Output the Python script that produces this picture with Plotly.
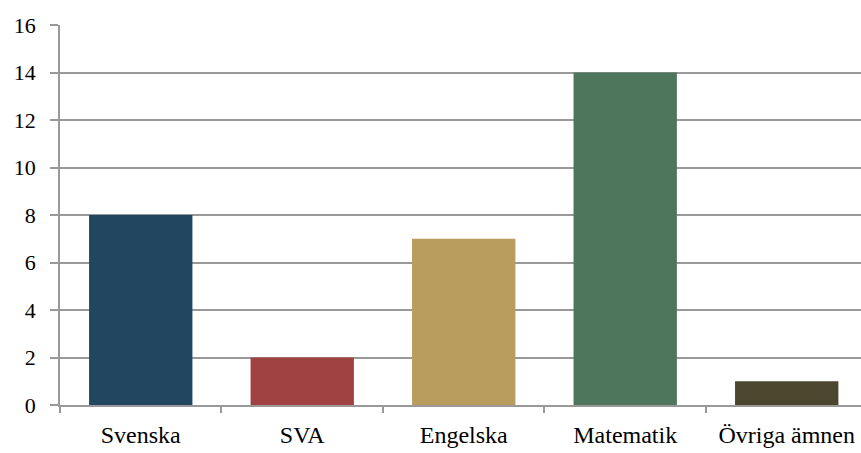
import plotly.graph_objects as go

categories = ["Svenska", "SVA", "Engelska", "Matematik", "Övriga ämnen"]
values = [8, 2, 7, 14, 1]
colors = ["#224560", "#A14242", "#B99D5E", "#4E765C", "#4B462D"]
y_ticks = [0, 2, 4, 6, 8, 10, 12, 14, 16]

FONT = "Liberation Serif, serif"
tfy = dict(family=FONT, size=22, color="#000000")
tfx = dict(family=FONT, size=24, color="#000000")

fig = go.Figure(go.Bar(x=categories, y=values, marker_color=colors, marker_line_width=0))

fig.update_layout(
    width=861, height=453,
    margin=dict(l=60, r=0, t=25, b=48, autoexpand=False),
    plot_bgcolor="white", paper_bgcolor="white",
    bargap=0.36,
    showlegend=False,
    font=tfy,
)
fig.update_xaxes(
    type="category", range=[-0.5, 4.46],
    showline=True, linecolor="#999999", linewidth=1.5,
    ticks="outside", tickson="boundaries", ticklen=6, tickcolor="#999999", tickwidth=1.5,
    showgrid=False, tickfont=tfx, automargin=False, ticklabelstandoff=7,
)
fig.update_yaxes(
    range=[0, 16], tickvals=y_ticks,
    showline=True, linecolor="#999999", linewidth=1.5,
    ticks="outside", ticklen=8, tickcolor="#999999", tickwidth=1.5,
    showgrid=True, gridcolor="#999999", gridwidth=1.5,
    zeroline=False, tickfont=tfy, automargin=False, ticklabelstandoff=10,
)

fig.write_html("out.html", config={"displayModeBar": False},
               post_script="document.body.style.margin='0';")
